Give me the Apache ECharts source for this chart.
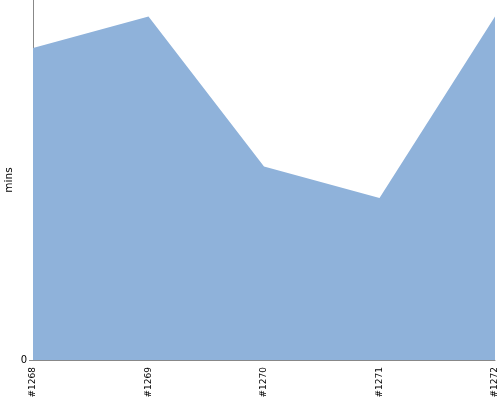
<!DOCTYPE html>
<html><head><meta charset="utf-8">
<script src="https://cdn.jsdelivr.net/npm/echarts@6/dist/echarts.min.js"></script>
<style>html,body{margin:0;padding:0;background:#fff}#c{width:500px;height:400px}</style>
</head><body><div id="c"></div>
<script>
const categories = ['#1268', '#1269', '#1270', '#1271', '#1272'];
const minsValues = [10.4, 11.45, 6.45, 5.4, 11.45];
const yMax = 12;

const chart = echarts.init(document.getElementById('c'), null, {renderer: 'canvas'});
chart.setOption({
  animation: false,
  grid: {left: 33, right: 5, top: 0, bottom: 40, outerBoundsMode: 'none', containLabel: false},
  xAxis: {
    type: 'category', data: categories, boundaryGap: false,
    axisLine: {lineStyle: {color: '#888', width: 1}},
    axisTick: {show: false},
    axisLabel: {rotate: 90, color: '#000', fontSize: 9, fontFamily: 'DejaVu Sans', margin: 7, interval: 0}
  },
  yAxis: {
    type: 'value', min: 0, max: yMax, interval: yMax,
    name: 'mins', nameLocation: 'middle', nameGap: 18, nameRotate: 90, nameMoveOverlap: false,
    nameTextStyle: {color: '#000', fontSize: 10.5, fontFamily: 'DejaVu Sans'},
    axisLine: {show: true, lineStyle: {color: '#888', width: 1}},
    axisTick: {show: true, length: 4, lineStyle: {color: '#888'}, customValues: [0]},
    splitLine: {show: false},
    axisLabel: {color: '#000', fontSize: 10, fontFamily: 'DejaVu Sans', margin: 6, customValues: [0],
      formatter: v => v === 0 ? '0' : ''}
  },
  series: [{
    type: 'line', data: minsValues, symbol: 'none',
    lineStyle: {width: 0}, areaStyle: {color: '#8fb2da', opacity: 1}
  }]
});
</script></body></html>
